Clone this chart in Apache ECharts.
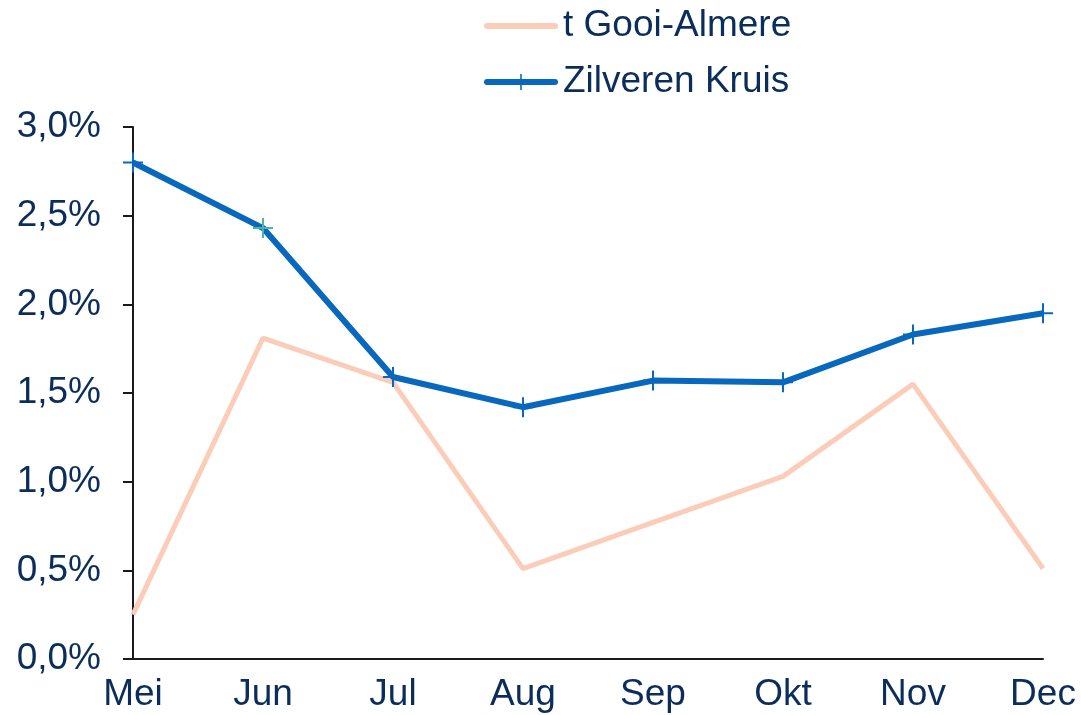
<!DOCTYPE html>
<html>
<head>
<meta charset="utf-8">
<script src="https://cdn.jsdelivr.net/npm/echarts@6/dist/echarts.min.js"></script>
<style>
html,body{margin:0;padding:0;background:#fff;}
#chart{width:1081px;height:715px;}
</style>
</head>
<body>
<div id="chart"></div>
<script>
var categories = ['Mei','Jun','Jul','Aug','Sep','Okt','Nov','Dec'];
var gooiAlmere = [0.25, 1.81, 1.56, 0.51, 0.77, 1.03, 1.55, 0.51];
var zilverenKruis = [2.80, 2.43, 1.59, 1.42, 1.57, 1.56, 1.83, 1.95];
var seriesNames = ['t Gooi-Almere', 'Zilveren Kruis'];

var textColor = '#0b2d5b';
var fontFam = 'Liberation Sans, Arial, sans-serif';
var plusPath = 'path://M9,0 L11,0 L11,9 L20,9 L20,11 L11,11 L11,20 L9,20 L9,11 L0,11 L0,9 L9,9 Z';

var zkData = zilverenKruis.map(function(v, i){
  if (i === 1) return {value: v, itemStyle: {color: '#4db3a2'}};
  return v;
});

var chart = echarts.init(document.getElementById('chart'));
chart.setOption({
  animation: false,
  backgroundColor: '#ffffff',
  grid: {left: 133, right: 38, top: 127, bottom: 56},
  legend: {
    orient: 'vertical',
    left: 479,
    top: 0,
    itemWidth: 68,
    itemHeight: 20,
    itemGap: 14,
    data: [
      {name: seriesNames[0], itemStyle: {opacity: 0}, lineStyle: {width: 6, cap: 'round'}},
      {name: seriesNames[1], lineStyle: {width: 6, cap: 'round'}}
    ],
    textStyle: {color: textColor, fontSize: 37, fontFamily: fontFam, lineHeight: 42, padding: [0, 0, 0, 3]}
  },
  xAxis: {
    type: 'category',
    data: categories,
    boundaryGap: false,
    axisLine: {lineStyle: {color: '#1a1a1a', width: 2}},
    axisTick: {show: false},
    axisLabel: {color: textColor, fontSize: 37, fontFamily: fontFam, margin: 17}
  },
  yAxis: {
    type: 'value',
    min: 0,
    max: 3,
    interval: 0.5,
    splitLine: {show: false},
    axisLine: {show: true, lineStyle: {color: '#1a1a1a', width: 2}},
    axisTick: {show: true, length: 10, lineStyle: {color: '#1a1a1a', width: 2}},
    axisLabel: {
      color: textColor, fontSize: 37, fontFamily: fontFam, margin: 32,
      formatter: function(v){ return v.toFixed(1).replace('.', ',') + '%'; }
    }
  },
  series: [
    {
      name: seriesNames[0],
      type: 'line',
      data: gooiAlmere,
      showSymbol: false,
      symbol: 'none',
      lineStyle: {color: '#fbcdb9', width: 5},
      itemStyle: {color: '#fbcdb9'},
      z: 2
    },
    {
      name: seriesNames[1],
      type: 'line',
      data: zkData,
      symbol: plusPath,
      symbolSize: 20,
      lineStyle: {color: '#0868be', width: 6},
      itemStyle: {color: '#0868be'},
      z: 3
    }
  ]
});
</script>
</body>
</html>
